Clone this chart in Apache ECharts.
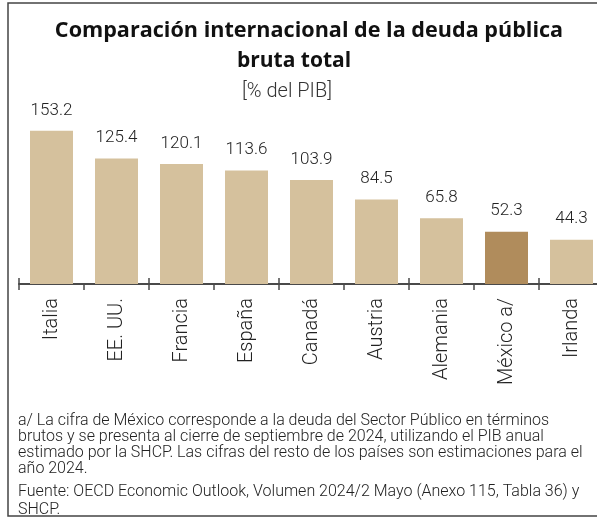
<!DOCTYPE html>
<html>
<head>
<meta charset="utf-8">
<script src="https://cdn.jsdelivr.net/npm/echarts@6/dist/echarts.min.js"></script>
<style>
  html, body { margin: 0; padding: 0; background: #fff; }
  #chart { width: 597px; height: 518px; }
</style>
</head>
<body>
<div id="chart"></div>
<script>
// Comparación internacional de la deuda pública bruta total
const paises = ['Italia', 'EE. UU.', 'Francia', 'España', 'Canadá', 'Austria', 'Alemania', 'México a/', 'Irlanda'];
const deuda = [153.2, 125.4, 120.1, 113.6, 103.9, 84.5, 65.8, 52.3, 44.3];
const destacado = 'México a/';

const notaLineas = [
    'a/ La cifra de México corresponde a la deuda del Sector Público en términos',
    'brutos y se presenta al cierre de septiembre de 2024, utilizando el PIB anual',
    'estimado por la SHCP. Las cifras del resto de los países son estimaciones para el',
    'año 2024.'
];
const fuenteLineas = [
    'Fuente: OECD Economic Outlook, Volumen 2024/2 Mayo (Anexo 115, Tabla 36) y',
    'SHCP.'
];

const FONT = 'Roboto';
const colorBarra = '#d5c19d';
const colorDestacado = '#b08c5c';
const colorEje = '#4a4a4a';

const chart = echarts.init(document.getElementById('chart'));

chart.setOption({
    backgroundColor: '#fff',
    animation: false,
    title: [
        {
            text: 'Comparación internacional de la deuda pública',
            left: 304, top: 15, textAlign: 'center',
            textStyle: { fontFamily: 'Open Sans', fontWeight: 'bold', fontSize: 21.6, color: '#111' }
        },
        {
            text: 'bruta total',
            left: 289, top: 46, textAlign: 'center',
            textStyle: { fontFamily: 'Open Sans', fontWeight: 'bold', fontSize: 21, color: '#111' }
        },
        {
            text: '[% del PIB]',
            left: 282, top: 77, textAlign: 'center',
            textStyle: { fontFamily: FONT, fontWeight: 300, fontSize: 20, color: '#333' }
        }
    ],
    grid: { left: 19, top: 84, width: 585, height: 200, outerBoundsMode: 'none', containLabel: false },
    xAxis: [
        {
            type: 'category',
            data: paises,
            axisLine: { lineStyle: { color: colorEje, width: 2 } },
            axisTick: { show: true, length: 6, lineStyle: { color: colorEje, width: 1.5 } },
            axisLabel: {
                rotate: 90, margin: 14,
                fontFamily: FONT, fontWeight: 300, fontSize: 20, color: '#222'
            }
        },
        {
            type: 'category',
            position: 'bottom',
            data: paises,
            axisLine: { show: false },
            axisTick: { show: true, inside: true, length: 6, lineStyle: { color: colorEje, width: 1.5 } },
            axisLabel: { show: false }
        }
    ],
    yAxis: {
        type: 'value', min: 0, max: 200,
        show: false
    },
    series: [{
        type: 'bar',
        barWidth: 43,
        data: deuda.map((v, i) => ({
            value: v,
            itemStyle: { color: paises[i] === destacado ? colorDestacado : colorBarra }
        })),
        label: {
            show: true, position: 'top', distance: 12,
            fontFamily: FONT, fontWeight: 300, fontSize: 17, color: '#222',
            formatter: p => p.value.toFixed(1)
        }
    }],
    graphic: [
        {
            type: 'polyline',
            shape: { points: [[597, 3], [8, 3], [8, 516], [597, 516]] },
            style: { stroke: '#444', lineWidth: 1.5, fill: null },
            silent: true
        },
        {
            type: 'text', left: 18, top: 413,
            style: {
                text: notaLineas.join('\n'),
                fontFamily: FONT, fontWeight: 300, fontSize: 16, lineHeight: 16, fill: '#222'
            }
        },
        {
            type: 'text', left: 18, top: 483,
            style: {
                text: fuenteLineas.join('\n'),
                fontFamily: FONT, fontWeight: 300, fontSize: 16, lineHeight: 18, fill: '#222'
            }
        }
    ]
});
</script>
</body>
</html>
